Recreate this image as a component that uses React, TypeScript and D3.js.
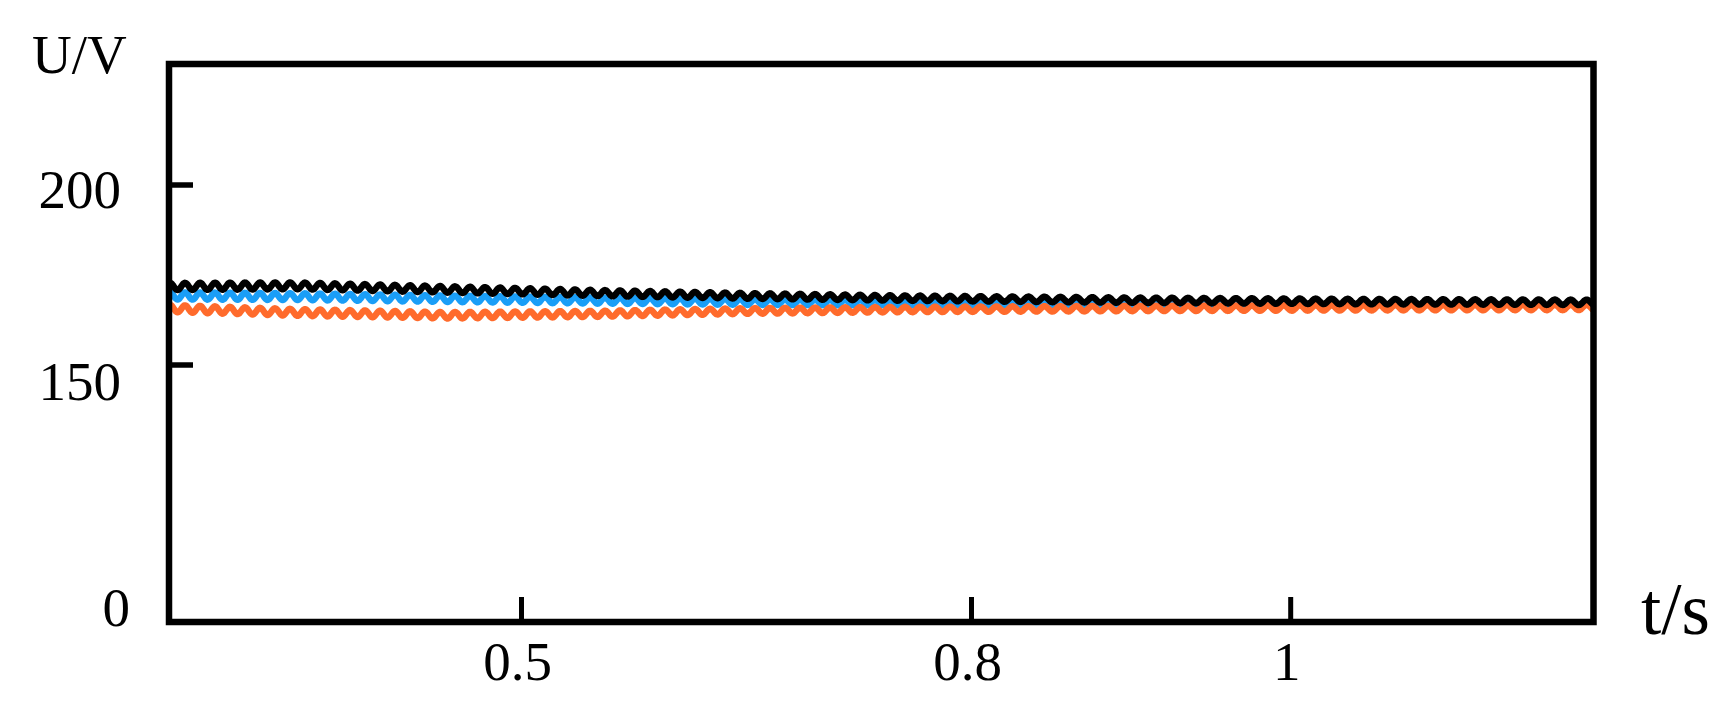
import React from 'react'
import * as d3 from 'd3'

const timeKnots = [0.265, 0.35, 0.45, 0.55, 0.65, 0.75, 0.9, 1.05, 1.19]
const blackMean = [171.8, 172.0, 171.0, 170.0, 169.2, 168.6, 168.0, 167.6, 167.4]
const blueMean = [169.2, 169.0, 168.4, 167.9, 167.5, 167.3, 167.0, 166.8, 166.7]
const orangeMean = [165.7, 164.6, 163.8, 164.2, 165.0, 165.4, 165.7, 165.9, 166.0]
// ripple amplitude (V) at the same knots, 100 Hz ripple
const rippleAmp = [1.0, 0.95, 0.9, 0.85, 0.8, 0.75, 0.75, 0.75, 0.75]
const rippleHz = 100
const rippleCrest = 0.2757

const xTicks = [0.5, 0.8, 1]
const xTickLabels = ['0.5', '0.8', '1']
const yTicks = [150, 200]
const yTickLabels = [
  { v: 0, text: '0' },
  { v: 150, text: '150' },
  { v: 200, text: '200' },
]

const series = [
  { name: 'blue', mean: blueMean, color: '#1a9ef7' },
  { name: 'orange', mean: orangeMean, color: '#ff6b2c' },
  { name: 'black', mean: blackMean, color: '#000000' },
]

const W = 1735
const H = 722
const left = 169
const right = 1593.5
const top = 64
const bottom = 622

// the figure's axes are not uniformly spaced, so piecewise scales
const x = d3.scaleLinear()
  .domain([0.265, 0.5, 0.8, 1, 1.19])
  .range([left, 521.5, 971.5, 1290.7, right])
const y = d3.scaleLinear()
  .domain([0, 150, 200, 233.6])
  .range([bottom, 365, 185, top])

const font = '"Liberation Serif", "Times New Roman", serif'

// label nudges, in px (the original labels are not evenly placed)
const yLabelNudge: Record<number, [number, number]> = {
  0: [9, 4],
  150: [0, 35],
  200: [0, 23],
}

function trace(mean: number[]) {
  const meanAt = d3.scaleLinear().domain(timeKnots).range(mean)
  const ampAt = d3.scaleLinear().domain(timeKnots).range(rippleAmp)
  const t0 = timeKnots[0]
  const t1 = timeKnots[timeKnots.length - 1]
  const n = Math.round((t1 - t0) * rippleHz * 16)
  const pts: [number, number][] = d3.range(n + 1).map((i) => {
    const t = t0 + (i / n) * (t1 - t0)
    const v = meanAt(t) + ampAt(t) * Math.cos(2 * Math.PI * rippleHz * (t - rippleCrest))
    return [t, v]
  })
  return pts
}

export default function App() {
  const line = d3.line<[number, number]>()
    .x((d) => x(d[0]))
    .y((d) => y(d[1]))
    .curve(d3.curveLinear)

  return (
    <div style={{ position: 'absolute', left: 0, top: 0 }}>
      <svg width={W} height={H} style={{ display: 'block', background: '#fff' }}>
        {series.map((s) => (
          <path
            key={s.name}
            d={line(trace(s.mean)) || ''}
            fill="none"
            stroke={s.color}
            strokeWidth={6.5}
            strokeLinejoin="round"
          />
        ))}

        {/* frame */}
        <rect
          x={left}
          y={top}
          width={right - left}
          height={bottom - top}
          fill="none"
          stroke="#000"
          strokeWidth={6.5}
        />

        {/* y ticks */}
        {yTicks.map((v) => (
          <line key={v} x1={left} x2={left + 24} y1={y(v)} y2={y(v)} stroke="#000" strokeWidth={5.5} />
        ))}
        {yTickLabels.map((d) => (
          <text
            key={d.v}
            x={121 + yLabelNudge[d.v][0]}
            y={y(d.v) + yLabelNudge[d.v][1]}
            textAnchor="end"
            fontFamily={font}
            fontSize={55}
          >
            {d.text}
          </text>
        ))}

        {/* x ticks */}
        {xTicks.map((t, i) => (
          <g key={t}>
            <line x1={x(t)} x2={x(t)} y1={bottom} y2={bottom - 25} stroke="#000" strokeWidth={5} />
            <text
              x={x(t) - 4}
              y={680}
              textAnchor="middle"
              fontFamily={font}
              fontSize={55}
            >
              {xTickLabels[i]}
            </text>
          </g>
        ))}

        {/* axis titles */}
        <text x={32} y={73} fontFamily={font} fontSize={55}>U/V</text>
        <text x={1641} y={634} fontFamily={font} fontSize={73}>t/s</text>
      </svg>
    </div>
  )
}
